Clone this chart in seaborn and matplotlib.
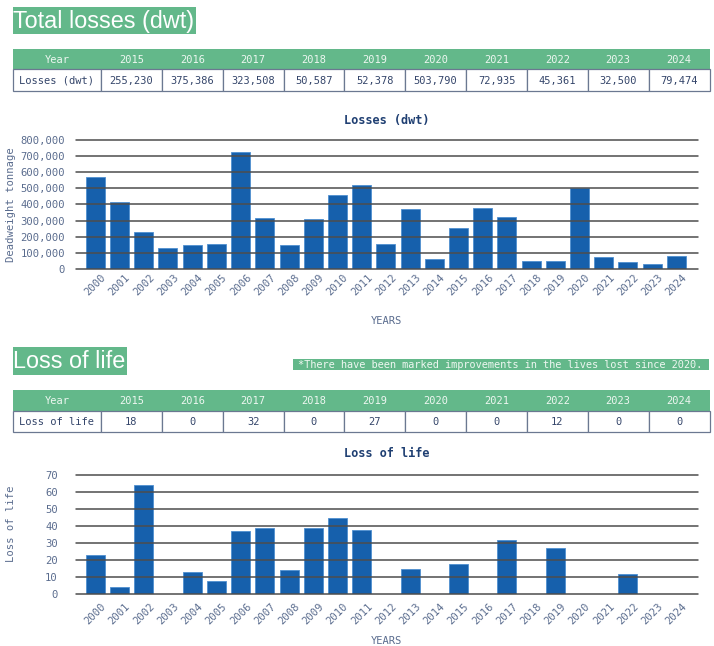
import matplotlib
matplotlib.use("Agg")
import matplotlib.pyplot as plt
import seaborn as sns
import pandas as pd
from matplotlib.patches import Rectangle
from matplotlib.ticker import FuncFormatter, MultipleLocator

# ---------------- data ----------------
years = ["2000", "2001", "2002", "2003", "2004", "2005", "2006", "2007", "2008",
         "2009", "2010", "2011", "2012", "2013", "2014", "2015", "2016", "2017",
         "2018", "2019", "2020", "2021", "2022", "2023", "2024"]
losses_dwt = [570000, 417000, 227000, 131000, 147000, 158000, 728000, 317000, 147000,
              311000, 456000, 524000, 153000, 371000, 62000, 255230, 375386, 323508,
              50587, 52378, 503790, 72935, 45361, 32500, 79474]
loss_of_life = [23, 4, 64, 0, 13, 8, 37, 39, 14, 39, 45, 38, 0, 15, 0, 18, 0, 32,
                0, 27, 0, 0, 12, 0, 0]

table_years = ["2015", "2016", "2017", "2018", "2019", "2020", "2021", "2022", "2023", "2024"]
table_losses = [255230, 375386, 323508, 50587, 52378, 503790, 72935, 45361, 32500, 79474]
table_lives = [18, 0, 32, 0, 27, 0, 0, 12, 0, 0]

title1 = "Total losses (dwt)"
title2 = "Loss of life"
note = "*There have been marked improvements in the lives lost since 2020."

# ---------------- style ----------------
sns.set_theme(style="white")
MONO = "DejaVu Sans Mono"
plt.rcParams["font.family"] = [MONO, "DejaVu Sans"]

GREEN = "#63B88A"
BAR = "#1660AC"
BAR_EDGE = "#4F8FD0"
TICK = "#5A6C8E"
NAVY = "#1F3F72"
GRID = "#4D4D4D"
BORDER = "#6B7891"
HEAD_TXT = "#EEF7F1"
CELL_TXT = "#34456A"

W, H = 714, 646
fig = plt.figure(figsize=(W / 100, H / 100), dpi=100)

# overlay in pixel coordinates for headers / tables
lay = fig.add_axes([0, 0, 1, 1])
lay.set_xlim(0, W)
lay.set_ylim(H, 0)
lay.axis("off")


def header_box(x, y, w, h, text):
    lay.add_patch(Rectangle((x, y), w, h, facecolor=GREEN, edgecolor="none"))
    lay.text(x + 0.5, y + 20.8, text, family="Liberation Sans", fontsize=16.8,
             color="white", va="baseline", ha="left")


def draw_table(top, row_label, values, fmt):
    x0, x1, first_w = 12.7, 709.5, 88.3
    col_w = (x1 - x0 - first_w) / len(table_years)
    hh, rh = 20.5, 21.5
    lay.add_patch(Rectangle((x0, top), x1 - x0, hh, facecolor=GREEN, edgecolor="none"))
    lay.text(x0 + first_w / 2, top + hh / 2, "Year", ha="center", va="center_baseline",
             fontsize=7.5, color=HEAD_TXT, family=MONO)
    for i, yr in enumerate(table_years):
        cx = x0 + first_w + col_w * (i + 0.5)
        lay.text(cx, top + hh / 2, yr, ha="center", va="center_baseline",
                 fontsize=7.5, color=HEAD_TXT, family=MONO)
    ry = top + hh
    lay.add_patch(Rectangle((x0, ry), first_w, rh, facecolor="white",
                            edgecolor=BORDER, lw=0.9))
    lay.text(x0 + first_w / 2, ry + rh / 2, row_label, ha="center", va="center_baseline",
             fontsize=7.5, color=CELL_TXT, family=MONO)
    for i, v in enumerate(values):
        cx0 = x0 + first_w + col_w * i
        lay.add_patch(Rectangle((cx0, ry), col_w, rh, facecolor="white",
                                edgecolor=BORDER, lw=0.9))
        lay.text(cx0 + col_w / 2, ry + rh / 2, fmt(v), ha="center", va="center_baseline",
                 fontsize=7.5, color=CELL_TXT, family=MONO)


header_box(12.7, 7, 183.5, 27, title1)
draw_table(48.5, "Losses (dwt)", table_losses, lambda v: f"{v:,}")

header_box(12.7, 347, 114.5, 28, title2)
lay.add_patch(Rectangle((292.5, 358.5), 416, 11.5, facecolor=GREEN, edgecolor="none"))
lay.text(500.5, 364.5, note, ha="center", va="center_baseline", fontsize=7.4,
         color=HEAD_TXT, family=MONO)
draw_table(390, "Loss of life", table_lives, lambda v: f"{v}")

# ---------------- bar charts ----------------
df = pd.DataFrame({"year": years, "losses": losses_dwt, "lives": loss_of_life})


def style_chart(ax, title, ylabel, ymax, step, fmt, title_pad, ylab_y, xlab_y,
                xpad, ypad):
    ax.set_xlim(-0.8, len(years) - 0.12)
    ax.set_ylim(0, ymax)
    ax.yaxis.set_major_locator(MultipleLocator(step))
    ax.yaxis.set_major_formatter(FuncFormatter(fmt))
    for s in ax.spines.values():
        s.set_visible(False)
    ax.set_facecolor("none")
    ax.yaxis.grid(True, color=GRID, lw=1.1)
    ax.xaxis.grid(False)
    ax.set_axisbelow(False)
    ax.tick_params(axis="both", length=0, labelsize=7.6, labelcolor=TICK)
    ax.tick_params(axis="y", pad=ypad)
    ax.tick_params(axis="x", pad=xpad)
    for lbl in ax.get_xticklabels():
        lbl.set_rotation(45)
        lbl.set_ha("center")
        lbl.set_family(MONO)
    for lbl in ax.get_yticklabels():
        lbl.set_family(MONO)
    for t in ax.yaxis.get_major_ticks():
        t.gridline.set_clip_on(False)
    ax.set_title(title, family=MONO, fontweight="bold", color=NAVY, fontsize=8.6,
                 pad=title_pad)
    ax.set_xlabel("YEARS", family=MONO, fontsize=7.5, color=TICK, va="center")
    ax.xaxis.set_label_coords(0.5, xlab_y)
    ax.set_ylabel(ylabel, family=MONO, fontsize=7.6, color=TICK, va="center")
    ax.yaxis.set_label_coords(-0.104, ylab_y)


ax1 = fig.add_axes([76 / W, 1 - 269 / H, 621.7 / W, 129 / H])
sns.barplot(data=df, x="year", y="losses", color=BAR, saturation=1, width=0.785,
            edgecolor=BAR_EDGE, linewidth=0.6, ax=ax1)
style_chart(ax1, "Losses (dwt)", "Deadweight tonnage", 800000, 100000,
            lambda v, p: f"{v:,.0f}", 11.5, 0.5, -(321 - 269) / 129, 2.2, 8)

ax2 = fig.add_axes([76 / W, 1 - 594.3 / H, 621.7 / W, 119.3 / H])
sns.barplot(data=df, x="year", y="lives", color=BAR, saturation=1, width=0.785,
            edgecolor=BAR_EDGE, linewidth=0.6, ax=ax2)
style_chart(ax2, "Loss of life", "Loss of life", 70, 10,
            lambda v, p: f"{v:.0f}", 13, 0.59, -(641 - 594.3) / 119.3, 5, 13)

fig.savefig("out.png", dpi=100, facecolor="white")
